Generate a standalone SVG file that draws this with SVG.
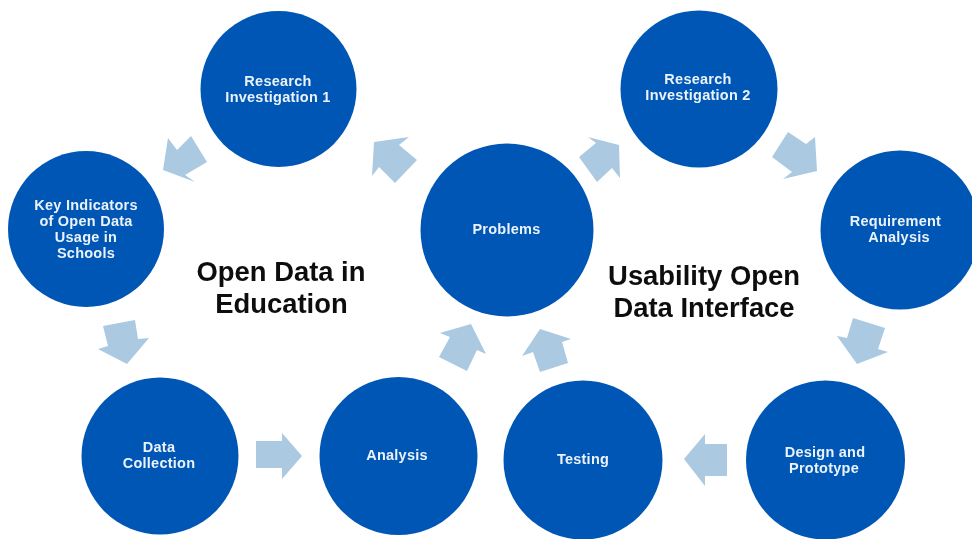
<svg xmlns="http://www.w3.org/2000/svg" width="972" height="539" viewBox="0 0 972 539">
<style>
.n{fill:#0056b4}
.a{fill:#abc9e1}
.l{font-family:"Liberation Sans",Arial,sans-serif;font-weight:700;font-size:14.5px;fill:#eaf2fa;text-anchor:middle;letter-spacing:.25px}
.h{font-family:"Liberation Sans",Arial,sans-serif;font-weight:700;font-size:27.4px;fill:#111;text-anchor:middle}
</style>
<defs><filter id="s" x="-5%" y="-5%" width="110%" height="110%"><feGaussianBlur stdDeviation="0.45"/></filter></defs>
<rect width="972" height="539" fill="#fff"/>
<g filter="url(#s)">
<g id="connectors">
<polygon class="a" points="163,170 168,138 177,150 191,136 207,162 185,175 195,182"/>
<polygon class="a" points="374,142 409,137 399,145 417,160 395,183 379,167 372,176"/>
<polygon class="a" points="103,326 135,320 138,339 149,338 127,364 98,349 108,346"/>
<polygon class="a" points="256,441 282,441 282,433 302,456 282,479 282,468 256,468"/>
<polygon class="a" points="471,324 486,354 477,350 467,371 439,357 450,337 440,333"/>
<polygon class="a" points="540,329 571,339 562,342 568,363 540,372 533,352 522,356"/>
<polygon class="a" points="588,137 619,145 620,178 612,168 597,182 579,157 596,143"/>
<polygon class="a" points="772,157 788,132 806,144 815,137 817,171 783,179 792,172"/>
<polygon class="a" points="853,318 885,328 878,349 888,352 857,364 837,336 847,338"/>
<polygon class="a" points="727,444 727,476 705,476 705,486 684,459 705,434 705,444"/>
</g>
<g id="research1"><circle class="n" cx="278.500" cy="89" r="78"/><text class="l" x="278" y="86">Research</text><text class="l" x="278" y="102">Investigation 1</text></g>
<g id="indicators"><circle class="n" cx="86" cy="229" r="78"/><text class="l" x="86" y="210">Key Indicators</text><text class="l" x="86" y="226">of Open Data</text><text class="l" x="86" y="242">Usage in</text><text class="l" x="86" y="258">Schools</text></g>
<g id="collection"><circle class="n" cx="160" cy="456" r="78.500"/><text class="l" x="159" y="452">Data</text><text class="l" x="159" y="468">Collection</text></g>
<g id="analysis"><circle class="n" cx="398.500" cy="456" r="79"/><text class="l" x="397" y="460">Analysis</text></g>
<g id="problems"><circle class="n" cx="507" cy="230" r="86.500"/><text class="l" x="506.500" y="234">Problems</text></g>
<g id="research2"><circle class="n" cx="699" cy="89" r="78.500"/><text class="l" x="698" y="84">Research</text><text class="l" x="698" y="100">Investigation 2</text></g>
<g id="requirement"><circle class="n" cx="900" cy="230" r="79.500"/><text class="l" x="895.500" y="226">Requirement</text><text class="l" x="899" y="242">Analysis</text></g>
<g id="design"><circle class="n" cx="825.500" cy="460" r="79.500"/><text class="l" x="825" y="457">Design and</text><text class="l" x="824" y="473">Prototype</text></g>
<g id="testing"><circle class="n" cx="583" cy="460" r="79.500"/><text class="l" x="583" y="464">Testing</text></g>
<g id="titles"><text class="h" x="281" y="280.500">Open Data in</text><text class="h" x="281.500" y="313">Education</text><text class="h" x="704" y="285">Usability Open</text><text class="h" x="704" y="317">Data Interface</text></g>
</g>
</svg>
